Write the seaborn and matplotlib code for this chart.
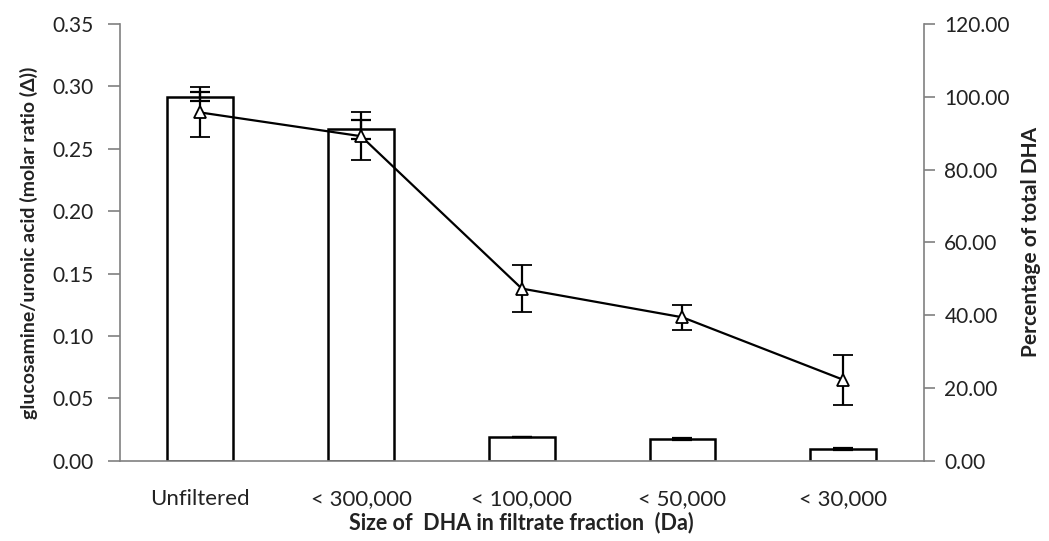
import numpy as np
import pandas as pd
import matplotlib
matplotlib.use("Agg")
import matplotlib.pyplot as plt
import seaborn as sns

# ---- data ----
categories = ["Unfiltered", "< 300,000", "< 100,000", "< 50,000", "< 30,000"]
ratio = [0.279, 0.260, 0.138, 0.115, 0.065]          # glucosamine/uronic acid (triangles, left axis)
ratio_err = [0.020, 0.019, 0.019, 0.010, 0.020]
pct_dha = [100.0, 91.0, 6.6, 6.0, 3.3]                # percentage of total DHA (bars, right axis)
pct_err = [1.3, 2.5, 0.0, 0.3, 0.3]

sns.set_style("white")
plt.rcParams["font.family"] = ["Lato", "DejaVu Sans"]

df = pd.DataFrame({"cat": categories, "pct": pct_dha})

fig = plt.figure(figsize=(10.49, 5.41), dpi=100)
ax = fig.add_axes([0.1144, 0.148, 0.766, 0.808])
ax2 = ax.twinx()

# bars on the right axis
sns.barplot(data=df, x="cat", y="pct", ax=ax2, color="white", edgecolor="black",
            linewidth=1.8, width=0.41, errorbar=None, zorder=1)
ax2.errorbar(np.arange(len(categories)), pct_dha, yerr=pct_err, fmt="none",
             ecolor="black", elinewidth=1.6, capsize=7, capthick=1.6)

# line on the left axis, drawn above the bars
ax.set_zorder(ax2.get_zorder() + 1)
ax.patch.set_visible(False)
ax.errorbar(np.arange(len(categories)), ratio, yerr=ratio_err, color="black",
            linewidth=1.6, elinewidth=1.6, capsize=7, capthick=1.6,
            marker="^", markersize=9, markerfacecolor="white", markeredgecolor="black",
            markeredgewidth=1.3)

ax.set_xlim(-0.5, len(categories) - 0.5)
ax2.set_xlim(-0.5, len(categories) - 0.5)
ax.set_ylim(0, 0.35)
ax2.set_ylim(0, 120)
ax.set_yticks(np.arange(0, 0.351, 0.05))
ax.set_yticklabels([f"{v:.2f}" for v in np.arange(0, 0.351, 0.05)])
ax2.set_yticks(np.arange(0, 121, 20))
ax2.set_yticklabels([f"{v:.2f}" for v in np.arange(0, 121, 20)])

ax.set_xticks(np.arange(len(categories)))
ax.set_xticklabels(categories)
ax.set_xticks(np.arange(-0.5, len(categories)), minor=True)
ax.tick_params(axis="x", which="major", length=0, pad=20, labelsize=16, colors="#222222")
ax.tick_params(axis="x", which="minor", length=6, width=1.2, direction="out", color="#808080")
ax.tick_params(axis="y", length=9, width=1.2, direction="out", color="#808080",
               labelsize=15, labelcolor="#222222", pad=10)
ax2.tick_params(axis="y", length=8, width=1.2, direction="out", color="#808080",
                labelsize=15, labelcolor="#222222", pad=7)

for a in (ax, ax2):
    a.spines["top"].set_visible(False)
    for s in ("left", "right", "bottom"):
        a.spines[s].set_color("#808080")
        a.spines[s].set_linewidth(1.2)
ax.spines["right"].set_visible(False)
ax2.spines["left"].set_visible(False)
ax2.spines["bottom"].set_visible(False)
ax2.set_xlabel("")
ax2.set_ylabel("")

ax.set_xlabel("Size of  DHA in filtrate fraction  (Da)", fontsize=15.5, fontweight="bold",
              labelpad=2, color="#222222")
ax.set_ylabel("glucosamine/uronic acid (molar ratio (\u0394))", fontsize=14, fontweight="bold",
              labelpad=10, color="#222222")
ax2.set_ylabel("Percentage of total DHA", fontsize=15, fontweight="bold", labelpad=8,
               color="#222222")

fig.savefig("out.png", dpi=100)
